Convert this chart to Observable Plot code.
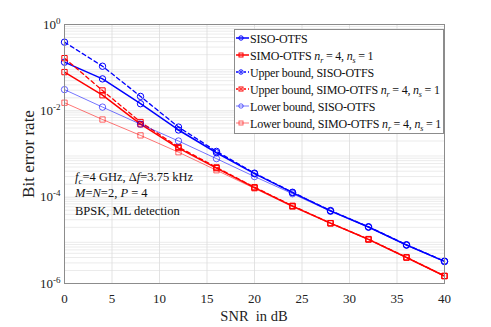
<!DOCTYPE html>
<html><head><meta charset="utf-8">
<script src="https://cdn.jsdelivr.net/npm/d3@7"></script>
<script src="https://cdn.jsdelivr.net/npm/@observablehq/plot@0.6"></script>
<style>body{margin:0;background:#fff} svg{display:block;font-family:"Liberation Serif","DejaVu Serif",serif}</style>
</head><body><div id="chart"></div>
<script>
const snr = [0,4,8,12,16,20,24,28,32,36,40];
const sisoOTFS  = [0.134,0.055,0.0146,0.0036,0.00107,3.5e-4,1.27e-4,4.8e-5,2.04e-5,7.8e-6,3.26e-6];
const simoOTFS  = [0.079,0.023,0.0049,0.00137,4.7e-4,1.66e-4,6.2e-5,2.5e-5,1.05e-5,4.0e-6,1.49e-6];
const upperSiso = [0.39,0.108,0.0216,0.0042,0.00115,3.6e-4,1.3e-4,4.9e-5,2.06e-5,7.9e-6,3.3e-6];
const upperSimo = [0.166,0.0296,0.0055,0.00145,4.9e-4,1.7e-4,6.3e-5,2.5e-5,1.07e-5,4.05e-6,1.5e-6];
const lowerSiso = [0.031,0.0122,0.0049,0.002,7.8e-4,3.0e-4,1.2e-4,4.7e-5,2.0e-5,7.7e-6,3.2e-6];
const lowerSimo = [0.0154,0.0063,0.0027,0.0011,4.2e-4,1.6e-4,6.0e-5,2.45e-5,1.03e-5,3.95e-6,1.48e-6];

const xTicks = [0,5,10,15,20,25,30,35,40];
const yTicks = [1e-6,1e-4,1e-2,1];
const yExps = [-6,-4,-2,0];
const annotation = ["f_c=4 GHz, Δf=3.75 kHz","M=N=2, P = 4","BPSK, ML detection"];

const series = [
  {key:"siso", values:sisoOTFS, color:"#0000ff", dash:null, width:1.5, opacity:1, symbol:"circle"},
  {key:"simo", values:simoOTFS, color:"#ff0000", dash:null, width:1.5, opacity:1, symbol:"square"},
  {key:"upSiso", values:upperSiso, color:"#0000ff", dash:"4,3", width:1.3, opacity:1, symbol:"circle"},
  {key:"upSimo", values:upperSimo, color:"#ff0000", dash:"4,3", width:1.3, opacity:1, symbol:"square"},
  {key:"loSiso", values:lowerSiso, color:"#0000ff", dash:null, width:0.9, opacity:0.6, symbol:"circle"},
  {key:"loSimo", values:lowerSimo, color:"#ff0000", dash:null, width:0.9, opacity:0.6, symbol:"square"}
];

const minorY = [];
for (let e = -6; e < 0; e++) for (let m = 2; m <= 9; m++) minorY.push(m * Math.pow(10, e));

const marks = [
  Plot.ruleY(minorY, {stroke:"#e6e6e6", strokeWidth:0.8}),
  Plot.ruleY(yTicks, {stroke:"#dcdcdc", strokeWidth:0.8}),
  Plot.ruleX(xTicks, {stroke:"#dcdcdc", strokeWidth:0.8}),
];
for (const s of series) {
  const data = snr.map((x,i)=>({x, y:s.values[i]}));
  marks.push(Plot.line(data, {x:"x", y:"y", stroke:s.color, strokeWidth:s.width, strokeDasharray:s.dash, strokeOpacity:s.opacity}));
  marks.push(Plot.dot(data, {x:"x", y:"y", stroke:s.color, strokeOpacity:s.opacity, fill:"none", symbol:s.symbol, r: s.symbol==="square"?3:3.2, strokeWidth:1}));
}
marks.push(Plot.frame({stroke:"#8c8c8c", strokeWidth:1}));
marks.push(Plot.axisX(xTicks, {tickSize:0, tickPadding:10, fontSize:13}));
marks.push(Plot.axisY(yTicks, {tickSize:0, tickPadding:4, fontSize:13, tickFormat:d=>"10"}));

const plot = Plot.plot({
  width:491, height:327,
  marginLeft:64, marginRight:47, marginTop:24, marginBottom:44,
  style:{fontFamily:"Liberation Serif, serif", fontSize:"13px", color:"#222", background:"#fff"},
  x:{domain:[0,40], label:null},
  y:{type:"log", domain:[1e-6,1], label:null},
  marks
});
document.getElementById("chart").appendChild(plot);

const svg = d3.select(plot);
svg.selectAll('g[aria-label="y-axis tick label"] text').each(function(d,i){
  const t = d3.select(this);
  t.text("10");
  t.append("tspan").attr("dy","-0.55em").attr("font-size","9px").text(String(yExps[i]));
});

svg.append("text").attr("x",254).attr("y",321).attr("text-anchor","middle")
  .attr("font-size","14.5px").attr("fill","#222").text("SNR\u00a0\u00a0in dB");
svg.append("text").attr("transform","translate(34,154) rotate(-90)").attr("text-anchor","middle")
  .attr("font-size","17px").attr("fill","#222").text("Bit error rate");

const ann = svg.append("g").attr("font-size","12.5px").attr("fill","#111").attr("text-anchor","start");
let a0 = ann.append("text").attr("x",75).attr("y",181);
a0.append("tspan").attr("font-style","italic").text("f");
a0.append("tspan").attr("font-style","italic").attr("font-size","9px").attr("dy","3").text("c");
a0.append("tspan").attr("dy","-3").text("=4 GHz, Δ");
a0.append("tspan").attr("font-style","italic").text("f");
a0.append("tspan").text("=3.75 kHz");
let a1 = ann.append("text").attr("x",75).attr("y",197);
a1.append("tspan").attr("font-style","italic").text("M");
a1.append("tspan").text("=");
a1.append("tspan").attr("font-style","italic").text("N");
a1.append("tspan").text("=2, ");
a1.append("tspan").attr("font-style","italic").text("P");
a1.append("tspan").text(" = 4");
ann.append("text").attr("x",75).attr("y",215).text(annotation[2]);

const legendRows = [
  [["SISO-OTFS"]],
  [["SIMO-OTFS "],["n","i"],["r","s"],[" = 4, "],["n","i"],["s","s"],[" = 1"]],
  [["Upper bound, SISO-OTFS"]],
  [["Upper bound, SIMO-OTFS "],["n","i"],["r","s"],[" = 4, "],["n","i"],["s","s"],[" = 1"]],
  [["Lower bound, SISO-OTFS"]],
  [["Lower bound, SIMO-OTFS "],["n","i"],["r","s"],[" = 4, "],["n","i"],["s","s"],[" = 1"]]
];
const lg = svg.append("g").attr("text-anchor","start");
lg.append("rect").attr("x",234.5).attr("y",29.5).attr("width",209).attr("height",104)
  .attr("fill","#fff").attr("stroke","#8c8c8c").attr("stroke-width",1);
legendRows.forEach((row,i)=>{
  const s = series[i];
  const y = 38 + i*17;
  lg.append("line").attr("x1",236).attr("x2",249).attr("y1",y).attr("y2",y)
    .attr("stroke",s.color).attr("stroke-width",s.width).attr("stroke-opacity",s.opacity)
    .attr("stroke-dasharray", s.dash ? "2,2" : null);
  if (s.symbol==="circle") lg.append("circle").attr("cx",241).attr("cy",y).attr("r",2.2).attr("fill","none").attr("stroke",s.color).attr("stroke-opacity",s.opacity);
  else lg.append("rect").attr("x",239).attr("y",y-2).attr("width",4).attr("height",4).attr("fill","none").attr("stroke",s.color).attr("stroke-opacity",s.opacity);
  const t = lg.append("text").attr("x",250).attr("y",y+4.5).attr("font-size","12px").attr("letter-spacing","-0.2px").attr("fill","#111");
  let sub = false;
  for (const seg of row) {
    const ts = t.append("tspan").text(seg[0]);
    if (seg[1]==="i") { ts.attr("font-style","italic"); if (sub) {ts.attr("dy","-3"); sub=false;} }
    else if (seg[1]==="s") { ts.attr("font-style","italic").attr("font-size","8px").attr("dy","3"); sub = true; }
    else if (sub) { ts.attr("dy","-3"); sub=false; }
  }
});
</script>
</body></html>
